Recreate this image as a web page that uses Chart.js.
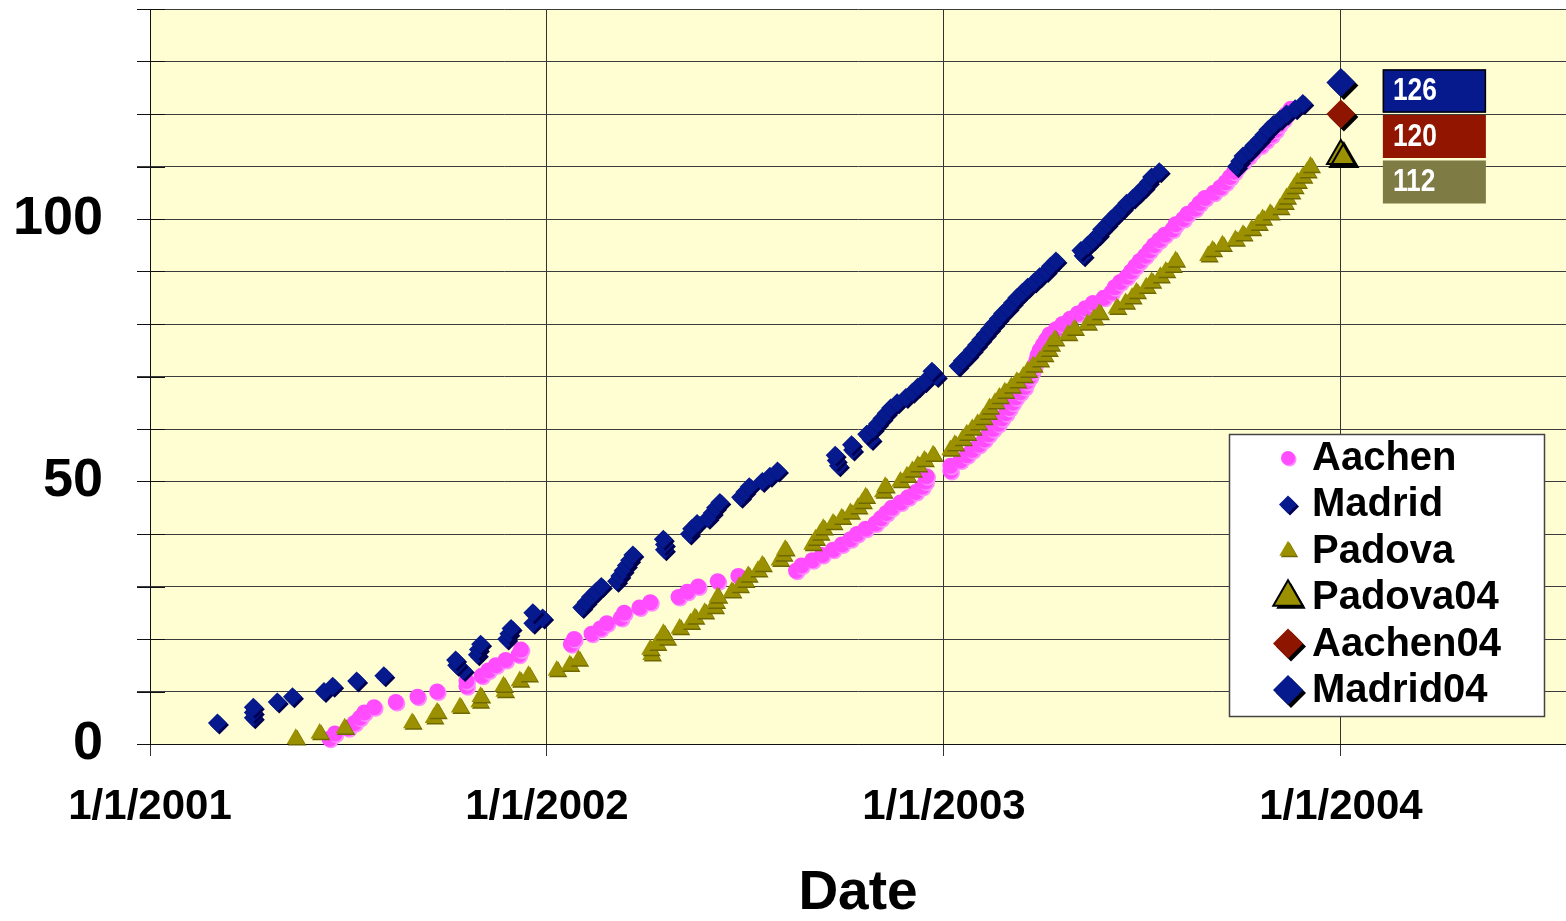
<!DOCTYPE html>
<html>
<head>
<meta charset="utf-8">
<script src="https://cdn.jsdelivr.net/npm/chart.js@4/dist/chart.umd.min.js"></script>
<style>
  html, body { margin: 0; padding: 0; background: #fff; overflow: hidden; }
  canvas { display: block; }
</style>
</head>
<body>
<canvas id="chart" width="1566" height="921"></canvas>
<script>
// x = days since 1/1/2001, y = count
const aachenDay = [165,170,182,188,193,197,206,226,246,264,
  291,291,305,311,318,327,339,341,387,390,
  406,414,420,433,436,450,460,486,494,504,
  522,541,594,599,609,618,628,636,644,650,
  658,667,672,677,682,690,697,704,710,713,
  714,736,736,745,751,756,762,767,771,775,
  780,783,787,790,793,796,800,804,806,809,
  811,813,815,816,818,821,824,827,833,839,
  846,853,860,867,877,884,887,892,898,902,
  906,910,915,919,923,928,933,940,943,950,
  954,961,965,970,978,984,989,993,997,1000,
  1005,1010,1014,1021,1026,1031,1035,1038,1042,1045,1049];
const aachenCount = [1,2,3,4,5,6,7,8,9,10,
  11,12,13,14,15,16,17,18,19,20,
  21,22,23,24,25,26,27,28,29,30,
  31,32,33,34,35,36,37,38,39,40,
  41,42,43,44,45,46,47,48,49,50,
  51,52,53,54,55,56,57,58,59,60,
  61,62,63,64,65,66,67,68,69,70,
  71,72,73,74,75,76,77,78,79,80,
  81,82,83,84,85,86,87,88,89,90,
  91,92,93,94,95,96,97,98,99,100,
  101,102,103,104,105,106,107,108,109,110,
  111,112,113,114,115,116,117,118,119,120,121];

const madridDay = [62,95,95,95,117,131,160,168,190,215,
  288,282,281,301,302,304,328,330,332,352,361,352,
  397,401,405,410,415,429,432,435,438,441,444,
  473,473,472,496,498,503,513,517,520,524,543,547,551,563,570,577,
  633,631,630,646,645,663,659,665,669,673,677,681,687,
  695,701,706,712,723,719,
  743,747,752,756,760,764,768,772,776,780,784,789,793,797,802,807,813,818,824,828,833,
  858,856,862,867,872,875,880,884,889,894,898,904,909,914,918,921,928,
  999,1002,1005,1011,1015,1020,1024,1028,1033,1039,1045,1053,1060];
const madridCount = [4,5,6,7,8,9,10,11,12,13,
  14,15,16,17,18,19,20,21,22,23,24,25,
  26,27,28,29,30,31,32,33,34,35,36,
  37,38,39,40,41,42,43,44,45,46,47,48,49,50,51,52,
  53,54,55,56,57,58,59,60,61,62,63,64,65,
  66,67,68,69,70,71,
  72,73,74,75,76,77,78,79,80,81,82,83,84,85,86,87,88,89,90,91,92,
  93,94,95,96,97,98,99,100,101,102,103,104,105,106,107,108,109,
  110,111,112,113,114,115,116,117,118,119,120,121,122];

const padovaDay = [134,156,179,241,261,264,285,303,304,326,
  325,340,348,374,386,394,461,460,466,475,
  472,487,497,501,510,519,520,522,535,542,
  547,550,559,563,579,582,584,609,612,616,
  619,628,636,644,651,655,658,674,676,690,
  696,701,706,712,720,736,740,747,751,756,
  761,766,770,772,777,781,786,792,797,803,
  807,812,818,822,826,828,832,844,850,862,
  868,873,889,897,903,907,916,921,929,934,
  940,943,973,977,986,998,1005,1013,1019,1023,
  1030,1039,1043,1045,1049,1052,1055,1060,1064,1067];
const padovaCount = [1,2,3,4,5,6,7,8,9,10,
  11,12,13,14,15,16,17,18,19,20,
  21,22,23,24,25,26,27,28,29,30,
  31,32,33,34,35,36,37,38,39,40,
  41,42,43,44,45,46,47,48,49,50,
  51,52,53,54,55,56,57,58,59,60,
  61,62,63,64,65,66,67,68,69,70,
  71,72,73,74,75,76,77,78,79,80,
  81,82,83,84,85,86,87,88,89,90,
  91,92,93,94,95,96,97,98,99,100,
  101,102,103,104,105,106,107,108,109,110];

// 2004 targets, all on 1/1/2004
const finalDay = 1095;
const padova04 = 112;
const aachen04 = 120;
const madrid04 = 126;

const xTickDays = [0, 365, 730, 1095];
const yGridValues = [0, 10, 20, 30, 40, 50, 60, 70, 80, 90, 100, 110, 120, 130, 140];
const yLabelValues = [0, 50, 100];

const FONT = "'Liberation Sans', Arial, sans-serif";
const pts = (xs, ys) => xs.map((x, i) => ({ x: x, y: ys[i] }));

function dayLabel(v) {
  const d = new Date(Date.UTC(2001, 0, 1 + v));
  return (d.getUTCMonth() + 1) + '/' + d.getUTCDate() + '/' + d.getUTCFullYear();
}

function marker(ctx, style, r, x, y) {
  ctx.beginPath();
  if (style === 'circle') {
    ctx.arc(x, y, r, 0, Math.PI * 2);
  } else if (style === 'rectRot') {
    ctx.moveTo(x - r, y); ctx.lineTo(x, y - r); ctx.lineTo(x + r, y); ctx.lineTo(x, y + r);
  } else {
    ctx.moveTo(x, y - r); ctx.lineTo(x + r * 0.866, y + r / 2); ctx.lineTo(x - r * 0.866, y + r / 2);
  }
  ctx.closePath();
}

const bgPlugin = {
  id: 'plotBg',
  beforeDraw(chart) {
    const { ctx, chartArea: a } = chart;
    ctx.save();
    ctx.fillStyle = '#FFFDD2';
    ctx.fillRect(a.left, a.top, a.right - a.left, a.bottom - a.top);
    ctx.restore();
  }
};

const shadowPlugin = {
  id: 'markShadow',
  beforeDatasetDraw(chart, args) {
    const ds = chart.data.datasets[args.index];
    const ctx = chart.ctx;
    ctx.save();
    ctx.shadowColor = ds.shadowColor;
    ctx.shadowOffsetX = ds.shadowOffset;
    ctx.shadowOffsetY = ds.shadowOffset;
    ctx.shadowBlur = 0;
  },
  afterDatasetDraw(chart) {
    chart.ctx.restore();
  }
};

// short dark cross ticks on the value axis
const crossTicks = {
  id: 'crossTicks',
  afterDatasetsDraw(chart) {
    const { ctx, chartArea: a, scales } = chart;
    ctx.save();
    ctx.strokeStyle = '#111';
    ctx.lineWidth = 1;
    scales.y.ticks.forEach(t => {
      const y = Math.round(scales.y.getPixelForValue(t.value)) + 0.5;
      ctx.beginPath();
      ctx.moveTo(a.left - 13, y);
      ctx.lineTo(a.left + 15, y);
      ctx.stroke();
    });
    ctx.restore();
  }
};

const valueBoxes = {
  id: 'valueBoxes',
  afterDatasetsDraw(chart) {
    const { ctx, scales } = chart;
    const boxes = [
      { v: madrid04, color: '#061A8E', border: '#000' },
      { v: aachen04, color: '#921500', border: null },
      { v: padova04, color: '#7E7B44', border: null }
    ];
    const left = scales.x.getPixelForValue(finalDay) + 42;
    const top0 = scales.y.getPixelForValue(madrid04) - 13;
    ctx.save();
    ctx.font = 'bold 31px ' + FONT;
    ctx.textBaseline = 'middle';
    boxes.forEach((b, i) => {
      const top = top0 + i * 45.5;
      ctx.fillStyle = b.color;
      ctx.fillRect(left, top, 103, 43);
      if (b.border) {
        ctx.strokeStyle = b.border;
        ctx.lineWidth = 1.5;
        ctx.strokeRect(left + 0.5, top + 0.5, 102, 42);
      }
      ctx.fillStyle = '#fff';
      ctx.save();
      ctx.translate(left + 10, top + 22);
      ctx.scale(0.85, 1);
      ctx.fillText(String(b.v), 0, 0);
      ctx.restore();
    });
    ctx.restore();
  }
};

const legendBox = {
  id: 'legendBox',
  afterDraw(chart) {
    const { ctx, chartArea: a } = chart;
    const w = 316, h = 283;
    const x0 = a.right - 21 - w, y0 = a.bottom - 27 - h;
    ctx.save();
    ctx.fillStyle = '#fff';
    ctx.fillRect(x0, y0, w, h);
    ctx.strokeStyle = '#444';
    ctx.lineWidth = 1.5;
    ctx.strokeRect(x0 + 0.5, y0 + 0.5, w - 1, h - 1);
    const items = chart.data.datasets.slice().sort((p, q) => p.legendRow - q.legendRow);
    items.forEach((ds, i) => {
      const cy = y0 + 24 + i * 46.4;
      const cx = x0 + 59;
      ctx.save();
      ctx.shadowColor = ds.shadowColor;
      ctx.shadowOffsetX = ds.shadowOffset;
      ctx.shadowOffsetY = ds.shadowOffset;
      marker(ctx, ds.pointStyle, ds.legendRadius, cx, cy);
      ctx.fillStyle = ds.backgroundColor;
      ctx.fill();
      ctx.restore();
      if (ds.borderWidth > 0) {
        marker(ctx, ds.pointStyle, ds.legendRadius, cx, cy);
        ctx.strokeStyle = ds.borderColor;
        ctx.lineWidth = ds.borderWidth;
        ctx.stroke();
      }
      ctx.fillStyle = '#000';
      ctx.font = 'bold 40px ' + FONT;
      ctx.textBaseline = 'middle';
      ctx.fillText(ds.label, x0 + 83, cy + 1);
    });
    ctx.restore();
  }
};

new Chart(document.getElementById('chart'), {
  type: 'scatter',
  data: {
    datasets: [
      {
        label: 'Aachen', data: pts(aachenDay, aachenCount), order: 6, legendRow: 0,
        pointStyle: 'circle', pointRadius: 8, legendRadius: 7,
        backgroundColor: '#FF4CFF', borderColor: '#FF4CFF', borderWidth: 0,
        shadowColor: '#FF8CFF', shadowOffset: 1.5, clip: false
      },
      {
        label: 'Madrid', data: pts(madridDay, madridCount), order: 5, legendRow: 1,
        pointStyle: 'rectRot', pointRadius: 9.5, legendRadius: 9,
        backgroundColor: '#061A8E', borderColor: '#061A8E', borderWidth: 0,
        shadowColor: '#000050', shadowOffset: 2, clip: false
      },
      {
        label: 'Padova', data: pts(padovaDay, padovaCount), order: 4, legendRow: 2,
        pointStyle: 'triangle', pointRadius: 10.5, legendRadius: 10,
        backgroundColor: '#9A9000', borderColor: '#9A9000', borderWidth: 0,
        shadowColor: '#6F6800', shadowOffset: 1.5, clip: false
      },
      {
        label: 'Padova04', data: [{ x: finalDay, y: padova04 }], order: 3, legendRow: 3,
        pointStyle: 'triangle', pointRadius: 16, legendRadius: 17,
        backgroundColor: '#9A9000', borderColor: '#000', borderWidth: 2,
        shadowColor: '#000', shadowOffset: 3, clip: false
      },
      {
        label: 'Aachen04', data: [{ x: finalDay, y: aachen04 }], order: 2, legendRow: 4,
        pointStyle: 'rectRot', pointRadius: 14.5, legendRadius: 15,
        backgroundColor: '#8E1600', borderColor: '#8E1600', borderWidth: 0,
        shadowColor: '#000', shadowOffset: 3, clip: false
      },
      {
        label: 'Madrid04', data: [{ x: finalDay, y: madrid04 }], order: 1, legendRow: 5,
        pointStyle: 'rectRot', pointRadius: 14.5, legendRadius: 15,
        backgroundColor: '#061A8E', borderColor: '#061A8E', borderWidth: 0,
        shadowColor: '#000', shadowOffset: 3, clip: false
      }
    ]
  },
  options: {
    responsive: false,
    animation: false,
    devicePixelRatio: 1,
    layout: { autoPadding: false, padding: { top: 9, right: 0, bottom: 0, left: 0 } },
    plugins: {
      legend: { display: false },
      tooltip: { enabled: false }
    },
    elements: { point: { hoverRadius: 0 } },
    scales: {
      x: {
        type: 'linear',
        min: 0,
        max: 1302,
        afterBuildTicks: s => { s.ticks = xTickDays.map(v => ({ value: v })); },
        afterFit: s => { s.height = 177; s.paddingLeft = 0; s.paddingRight = 0; },
        grid: { color: '#333', lineWidth: 1, tickLength: 12, drawTicks: true },
        border: { color: '#111', width: 1 },
        ticks: {
          autoSkip: false, maxRotation: 0, padding: 26, color: '#000',
          font: { family: FONT, size: 42, weight: 'bold' },
          callback: v => dayLabel(v)
        },
        title: {
          display: true, text: 'Date', color: '#000',
          font: { family: FONT, size: 55, weight: 'bold', lineHeight: 1 },
          padding: { top: 0, bottom: 0 }
        }
      },
      y: {
        type: 'linear',
        min: 0,
        max: 140,
        afterBuildTicks: s => { s.ticks = yGridValues.map(v => ({ value: v })); },
        afterFit: s => { s.width = 150; s.paddingTop = 0; s.paddingBottom = 0; },
        grid: { color: '#3C3C3C', lineWidth: 1, tickLength: 13, drawTicks: true },
        border: { color: '#111', width: 1 },
        ticks: {
          autoSkip: false, padding: 34, color: '#000',
          font: { family: FONT, size: 54, weight: 'bold' },
          callback: v => yLabelValues.includes(v) ? String(v) : ''
        }
      }
    }
  },
  plugins: [bgPlugin, shadowPlugin, crossTicks, valueBoxes, legendBox]
});
</script>
</body>
</html>
